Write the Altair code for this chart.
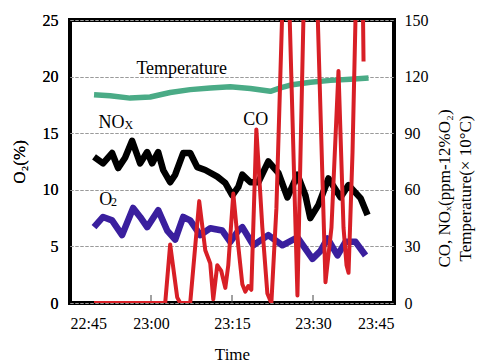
import altair as alt
import pandas as pd

# ---- axis ticks / labels ----
x_ticks = [0, 15, 30, 45, 60]
x_labels = ['22:45', '23:00', '23:15', '23:30', '23:45']
o2_ticks = [0, 5, 10, 15, 20, 25]
right_ticks = [0, 30, 60, 90, 120, 150]
inner_ticks = [15, 30, 45]

# ---- series (minutes after 22:45) ----
temp_t = [4.45, 7.42, 11.13, 14.84, 18.55, 22.26, 25.97, 29.68, 33.40, 37.11, 38.96, 40.82, 44.53, 48.24, 51.95, 55.29]
temp_v = [110.4, 109.8, 108.6, 109.2, 111.6, 113.1, 114.0, 114.6, 113.7, 112.2, 114.0, 115.5, 117.0, 118.0, 118.6, 119.3]

nox_t = [4.45, 6.12, 7.79, 8.91, 10.20, 11.50, 12.62, 12.99, 14.29, 15.21, 16.33, 17.25, 18.55, 19.48, 20.96,
         22.26, 23.56, 25.05, 27.27, 28.76, 30.06, 31.17, 31.91, 33.40, 34.88, 36.73, 38.59, 40.26, 42.12,
         43.60, 44.50, 46.01, 47.87, 50.09, 51.58, 53.80, 55.10]
nox_v = [77.5, 74.0, 79.5, 71.5, 77.0, 86.0, 77.0, 74.0, 80.0, 74.0, 80.0, 70.5, 64.0, 68.0, 79.5,
         79.5, 72.0, 70.5, 67.0, 63.6, 57.0, 61.5, 68.0, 64.0, 64.0, 75.0, 69.0, 56.0, 68.0,
         57.0, 45.0, 52.0, 66.0, 56.0, 62.5, 55.6, 46.6]

o2_t = [4.45, 6.12, 7.79, 9.65, 11.69, 12.99, 14.29, 16.33, 18.00, 19.48, 20.96, 22.26, 24.12, 25.97, 28.20,
        29.68, 31.17, 31.91, 33.95, 36.73, 39.33, 42.12, 44.90, 46.40, 47.68, 49.54, 51.02, 52.88, 54.73]
o2_v = [6.7, 7.6, 7.3, 6.0, 8.4, 7.6, 6.7, 8.2, 6.4, 5.6, 7.6, 7.3, 6.0, 6.6, 6.4,
        5.4, 6.4, 6.7, 5.1, 6.0, 5.1, 5.8, 3.9, 4.6, 5.7, 4.2, 5.4, 5.4, 4.2]

co_t = [4.45, 17.63, 18.55, 19.85, 20.41, 22.26, 23.93, 25.05, 25.97, 26.53, 27.27, 28.01, 28.76, 29.31, 30.24,
        31.17, 31.91, 32.47, 33.02, 33.58, 34.51, 35.62, 36.55, 37.29, 38.22, 39.52, 40.45, 42.12, 43.41,
        45.64, 47.31, 48.42, 49.72, 50.65, 51.21, 51.58, 52.32, 53.06, 54.17, 54.36]
co_v = [0, 0, 31, 3, 0, 0, 54, 28, 21, 2, 20, 17, 8, 20, 58,
        30, 10, 6, 9, 7, 92, 40, 5, 0, 50, 175, 175, 4, 175,
        175, 11, 40, 123, 40, 20, 16, 80, 175, 175, 128]

# ---- annotations (O2 units) ----
ann_text = ['Temperature', 'NO', 'CO', 'O']
ann_t = [20.69, 5.3, 34.4, 5.4]
ann_v = [20.27, 15.45, 15.71, 8.65]
ann_align = ['center', 'left', 'center', 'left']
sub_text = ['X', '2']
sub_t = [10.1, 7.6]
sub_v = [15.4, 8.56]

FONT = 'Times New Roman, Liberation Serif, serif'

label_expr = '[' + ','.join("'%s'" % s for s in x_labels) + '][round(datum.value/15)]'

xaxis = alt.Axis(values=x_ticks, labelExpr=label_expr, ticks=False, domain=False, grid=False,
                 labelFontSize=16, labelPadding=12, title='Time', titleFontSize=17,
                 titleFontWeight='normal', titlePadding=15, labelFont=FONT, titleFont=FONT,
                 labelColor='black', titleColor='black')
X = alt.X('t:Q', scale=alt.Scale(domain=[0, 60], nice=False, zero=False), axis=xaxis)

laxis = alt.Axis(values=o2_ticks, ticks=False, domain=False, grid=True, gridDash=[3, 2],
                 gridColor='#9a9a9a', gridWidth=1, labelFontSize=16, labelPadding=12,
                 title='O₂(%)', titleFontSize=17, titleFontWeight='normal', titlePadding=14,
                 labelFont=FONT, titleFont=FONT, labelColor='black', titleColor='black')
YL = alt.Y('v:Q', scale=alt.Scale(domain=[0, 25], nice=False), axis=laxis)

raxis = alt.Axis(values=right_ticks, orient='right', ticks=False, domain=False, grid=False,
                 labelFontSize=16, labelPadding=10,
                 title=['CO, NOₓ(ppm-12%O₂)', 'Temperature(× 10°C)'],
                 titleFontSize=17, titleFontWeight='normal', titleAngle=270, titlePadding=4,
                 titleY=168, titleLineHeight=21,
                 labelFont=FONT, titleFont=FONT, labelColor='black', titleColor='black')
YR = alt.Y('v:Q', scale=alt.Scale(domain=[0, 150], nice=False), axis=raxis)

o2_df = pd.DataFrame({'t': o2_t, 'v': o2_v})
temp_df = pd.DataFrame({'t': temp_t, 'v': temp_v})
nox_df = pd.DataFrame({'t': nox_t, 'v': nox_v})
co_df = pd.DataFrame({'t': co_t, 'v': co_v})
ann_df = pd.DataFrame({'t': ann_t, 'v': ann_v, 'text': ann_text, 'align': ann_align})
sub_df = pd.DataFrame({'t': sub_t, 'v': sub_v, 'text': sub_text})
tick_df = pd.DataFrame({'t': inner_ticks})

ticks = alt.Chart(tick_df).mark_rule(color='#444', strokeWidth=1).encode(
    x=X, y=alt.value(283), y2=alt.value(275))

o2_line = alt.Chart(o2_df).mark_line(color='#3a1f9e', strokeWidth=6.5, strokeJoin='round').encode(x=X, y=YL)

left = alt.layer(ticks, o2_line)

temp_line = alt.Chart(temp_df).mark_line(color='#4aab86', strokeWidth=5.5, strokeJoin='round').encode(x=X, y=YR)
nox_line = alt.Chart(nox_df).mark_line(color='black', strokeWidth=6.5, strokeJoin='round').encode(x=X, y=YR)
co_line = alt.Chart(co_df).mark_line(color='#d81f26', strokeWidth=4, clip=True, strokeJoin='round').encode(x=X, y=YR)

right = alt.layer(temp_line, nox_line, co_line)

ann_layers = []
for i in range(len(ann_text)):
    d = ann_df.iloc[[i]]
    ann_layers.append(alt.Chart(d).mark_text(font=FONT, fontSize=18, baseline='alphabetic',
                                             align=ann_align[i], color='black')
                      .encode(x=X, y=YL, text='text:N'))
sub_layer = alt.Chart(sub_df).mark_text(font=FONT, fontSize=12, baseline='alphabetic', align='left',
                                        color='black').encode(x=X, y=YL, text='text:N')
ann = alt.layer(*ann_layers, sub_layer)

chart = alt.layer(left, right, ann).resolve_scale(y='independent').properties(
    width=324, height=283,
    padding={'left': 70, 'top': 20, 'right': 94, 'bottom': 61},
    autosize=alt.AutoSizeParams(type='none'),
    background='white'
).configure_view(stroke='black', strokeWidth=4)

chart.save('out.html', embed_options={'renderer': 'svg', 'actions': False})
